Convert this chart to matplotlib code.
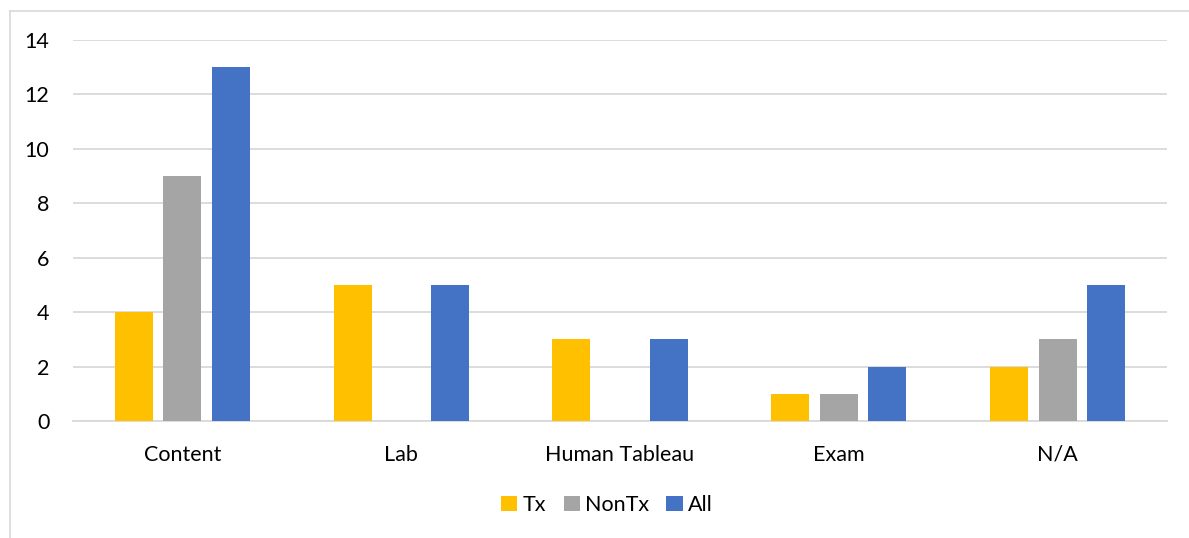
import matplotlib
matplotlib.use("Agg")
import matplotlib.pyplot as plt
from matplotlib.lines import Line2D
import numpy as np

categories = ["Content", "Lab", "Human Tableau", "Exam", "N/A"]
tx = [4, 5, 3, 1, 2]
nontx = [9, 0, 0, 1, 3]
all_ = [13, 5, 3, 2, 5]
series_names = ["Tx", "NonTx", "All"]
colors = ["#FFC000", "#A5A5A5", "#4472C4"]
yticks = [0, 2, 4, 6, 8, 10, 12, 14]

plt.rcParams['font.family'] = ['Lato', 'DejaVu Sans']

W, H = 1189, 538
fig = plt.figure(figsize=(W / 100, H / 100), dpi=100)
ax = fig.add_axes([73 / W, 1 - 421 / H, (1167 - 73) / W, (421 - 40) / H])

x = np.arange(len(categories))
bw = 0.174
step = 0.222
for i, (vals, name, c) in enumerate(zip([tx, nontx, all_], series_names, colors)):
    ax.bar(x + (i - 1) * step, vals, width=bw, color=c, label=name, zorder=3)

ax.set_xlim(-0.5, len(categories) - 0.5)
ax.set_ylim(0, 14)
ax.set_yticks(yticks)
ax.set_xticks(x)
ax.set_xticklabels(categories)
ax.yaxis.grid(True, color="#D9D9D9", linewidth=1.3, zorder=0)
ax.set_axisbelow(True)
for s in ["top", "right", "left"]:
    ax.spines[s].set_visible(False)
ax.spines["bottom"].set_color("#D9D9D9")
ax.spines["bottom"].set_linewidth(1.3)
ax.tick_params(axis="both", length=0, labelsize=15.5, colors="#000000")
ax.tick_params(axis="y", pad=17)
ax.tick_params(axis="x", pad=17)

leg = fig.legend(loc="center", bbox_to_anchor=(607 / W, 1 - 505 / H), ncol=3,
                 frameon=False, fontsize=15.5, handlelength=0.75, handleheight=0.75,
                 handletextpad=0.25, columnspacing=0.8)

# chart border (left and top visible)
fig.add_artist(Line2D([9.5 / W, 9.5 / W], [0, 1 - 10.5 / H], transform=fig.transFigure,
                      color="#D9D9D9", linewidth=1.2))
fig.add_artist(Line2D([9.5 / W, 1], [1 - 10.5 / H, 1 - 10.5 / H], transform=fig.transFigure,
                      color="#D9D9D9", linewidth=1.2))

fig.savefig("out.png", dpi=100)
